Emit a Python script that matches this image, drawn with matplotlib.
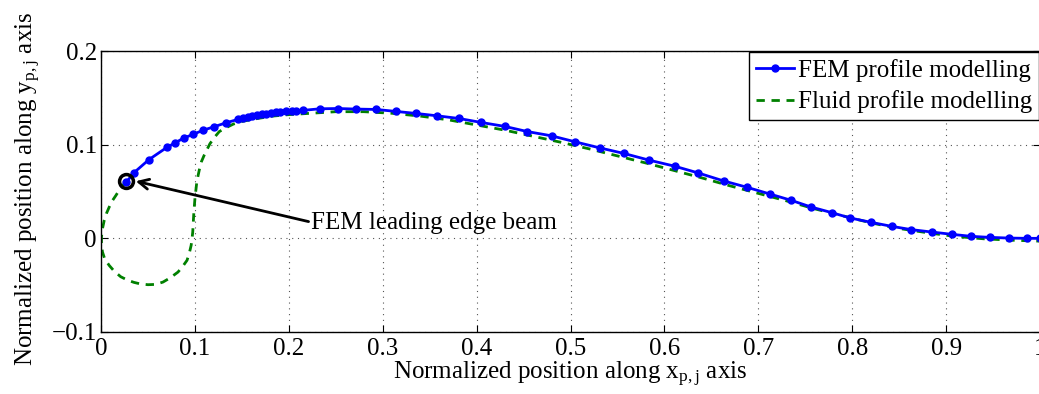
import matplotlib
matplotlib.use("Agg")
import matplotlib.pyplot as plt

plt.rcParams['font.family'] = ['Liberation Serif', 'DejaVu Serif']
plt.rcParams['mathtext.fontset'] = 'custom'
plt.rcParams['mathtext.rm'] = 'Liberation Serif'
plt.rcParams['mathtext.it'] = 'Liberation Serif:italic'

# FEM profile modelling
fem_x = [0.027, 0.035, 0.051, 0.070, 0.079, 0.088, 0.098, 0.109, 0.120, 0.133,
         0.146, 0.151, 0.157, 0.161, 0.166, 0.171, 0.176, 0.181, 0.186, 0.191,
         0.197, 0.203, 0.208, 0.215, 0.233, 0.252, 0.272, 0.293, 0.314, 0.335,
         0.358, 0.381, 0.405, 0.430, 0.454, 0.480, 0.505, 0.531, 0.557, 0.584,
         0.611, 0.636, 0.663, 0.688, 0.712, 0.735, 0.756, 0.778, 0.798, 0.820,
         0.842, 0.863, 0.885, 0.906, 0.927, 0.947, 0.967, 0.986, 1.000]
fem_y = [0.060, 0.070, 0.084, 0.097, 0.102, 0.107, 0.111, 0.1155, 0.119, 0.1233,
         0.127, 0.1283, 0.1294, 0.1305, 0.1316, 0.1323, 0.1329, 0.1337, 0.1344, 0.135,
         0.1355, 0.1358, 0.1361, 0.1366, 0.1383, 0.1386, 0.138, 0.1376, 0.1355, 0.1334,
         0.1308, 0.128, 0.1237, 0.1195, 0.114, 0.1094, 0.103, 0.0966, 0.0906, 0.0834,
         0.077, 0.0698, 0.0613, 0.0545, 0.0474, 0.0406, 0.0335, 0.0275, 0.0217, 0.0171,
         0.0128, 0.0093, 0.0067, 0.0043, 0.0021, 0.001, 0.0003, 0.0, 0.0]

# Fluid profile modelling
fluid_x = [0.027, 0.021, 0.016, 0.012, 0.0088, 0.006, 0.0034, 0.0015, 0.0005, 0.0005,
           0.0016, 0.004, 0.0088, 0.014, 0.021, 0.028, 0.035, 0.042, 0.050, 0.058,
           0.066, 0.074, 0.082, 0.087, 0.0916, 0.094, 0.096, 0.097, 0.0977, 0.0987,
           0.100, 0.101, 0.102, 0.1035, 0.105, 0.107, 0.110, 0.113, 0.116, 0.121,
           0.126, 0.133, 0.141, 0.151, 0.167, 0.183, 0.199, 0.215, 0.231, 0.250,
           0.280, 0.310, 0.340, 0.370, 0.400, 0.430, 0.460, 0.490, 0.520, 0.550,
           0.580, 0.610, 0.640, 0.670, 0.700, 0.730, 0.760, 0.790, 0.820, 0.850,
           0.880, 0.910, 0.940, 0.970, 1.000]
fluid_y = [0.061, 0.054, 0.046, 0.040, 0.0335, 0.027, 0.019, 0.010, 0.0014, -0.007,
           -0.0147, -0.022, -0.029, -0.035, -0.041, -0.0445, -0.047, -0.0487, -0.0495, -0.0492,
           -0.0467, -0.042, -0.036, -0.030, -0.0235, -0.016, -0.0075, 0.000, 0.0067, 0.0246,
           0.042, 0.051, 0.060, 0.0675, 0.0745, 0.082, 0.089, 0.095, 0.101, 0.108,
           0.114, 0.118, 0.122, 0.125, 0.128, 0.1305, 0.132, 0.133, 0.134, 0.1352,
           0.1352, 0.1335, 0.1305, 0.1265, 0.121, 0.1155, 0.109, 0.1025, 0.0955, 0.088,
           0.0805, 0.0725, 0.0645, 0.056, 0.048, 0.040, 0.0315, 0.024, 0.0165, 0.0105,
           0.006, 0.002, -0.0005, -0.002, -0.003]

beam_x = [0.027]
beam_y = [0.061]

xticks = [0, 0.1, 0.2, 0.3, 0.4, 0.5, 0.6, 0.7, 0.8, 0.9, 1.0]
xticklabels = ['0', '0.1', '0.2', '0.3', '0.4', '0.5', '0.6', '0.7', '0.8', '0.9', '1']
yticks = [-0.1, 0, 0.1, 0.2]
yticklabels = ['\u22120.1', '0', '0.1', '0.2']

FS = 18

fig = plt.figure(figsize=(10.39, 3.94), dpi=100)
ax = fig.add_axes([101/1039, 1 - 332/394, (1040 - 101)/1039, (332 - 51)/394])

ax.plot(fem_x, fem_y, color='blue', lw=2, marker='.', markersize=10,
        label='FEM profile modelling', zorder=3)
ax.plot(fluid_x, fluid_y, color=(0, 0.5, 0), lw=2, ls=(0, (3.0, 2.4)),
        label='Fluid profile modelling', zorder=2)
ax.plot(beam_x, beam_y, ls='none', marker='o', markersize=10, mfc='none',
        mec='black', mew=2.5, zorder=4)

ax.annotate('FEM leading edge beam', xy=(0.037, 0.061), xytext=(0.224, 0.016),
            fontsize=FS, ha='left', va='center',
            arrowprops=dict(arrowstyle='->', color='black', lw=2, relpos=(0, 0.55),
                            mutation_scale=18, shrinkA=0, shrinkB=0))

ax.set_xlim(0, 1)
ax.set_ylim(-0.1, 0.2)
ax.set_xticks(xticks)
ax.set_xticklabels(xticklabels)
ax.set_yticks(yticks)
ax.set_yticklabels(yticklabels)
ax.tick_params(direction='in', labelsize=FS, length=5, width=0.8, top=True, right=True)
ax.tick_params(axis='x', pad=4)
ax.tick_params(axis='y', pad=3)
ax.grid(True, ls=(0, (1, 4.2)), color='#555555', lw=0.8)
for s in ax.spines.values():
    s.set_linewidth(1)

ax.set_xlabel(r'Normalized position along x$_{\mathrm{p,j}}$ axis', fontsize=FS)
ax.xaxis.set_label_coords(0.5, -0.1)
ax.set_ylabel(r'Normalized position along y$_{\mathrm{p,j}}$ axis', fontsize=FS)
ax.yaxis.set_label_coords(-0.062, 0.51)

leg = ax.legend(loc='upper right', fontsize=FS, frameon=True, fancybox=False,
                edgecolor='black', framealpha=1, borderaxespad=0.05,
                handlelength=1.52, handletextpad=0.16, borderpad=0.28, labelspacing=0.33)
leg.get_frame().set_linewidth(1)

fig.savefig('out.png', dpi=100)
